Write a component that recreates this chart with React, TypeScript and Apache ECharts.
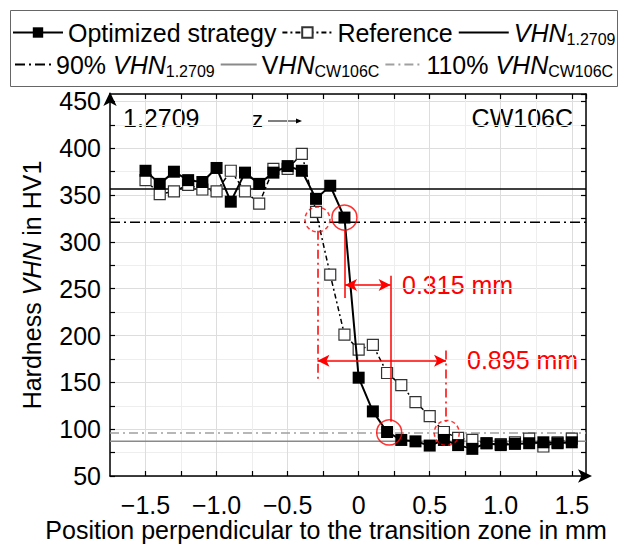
import React, { useEffect, useRef } from "react";
import * as echarts from "echarts";

const positions = [-1.5, -1.4, -1.3, -1.2, -1.1, -1.0, -0.9, -0.8, -0.7, -0.6, -0.5, -0.4, -0.3, -0.2, -0.1, 0.0, 0.1, 0.2, 0.3, 0.4, 0.5, 0.6, 0.7, 0.8, 0.9, 1.0, 1.1, 1.2, 1.3, 1.4, 1.5];
const optimized = [376, 362, 375, 366, 364, 379, 343, 374, 362, 374, 381, 376, 346, 360, 326, 155, 119, 97, 88.5, 87, 82.5, 88.5, 83, 79, 85, 83, 84.3, 85, 86, 85, 86];
const reference = [366, 351, 354, 361, 356, 354, 376, 354, 341, 378, 378, 394, 332, 265, 201, 185, 190, 160, 147, 129, 114, 97, 90.7, 88.5, 85, 84, 86, 90, 81.5, 86, 90];

const vhn12709 = 356.5;
const vhn12709_90 = 321;
const vhnCW106C = 87;
const vhnCW106C_110 = 96;

const xMin = -1.75;
const xMax = 1.6;
const yMin = 50;
const yMax = 458;

const xTitle = "Position perpendicular to the transition zone in mm";

// annotation geometry in data coordinates
const solidCircles = [[-0.1, 326], [0.215, 96.5]];
const dashedCircles = [[-0.29, 324], [0.62, 96]];
const solidVerticals = [[-0.096, 312, 240], [0.225, 264, 108]];
const dashVerticals = [[-0.29, 312, 150], [0.615, 184, 108]];
const dimensionArrows = [[-0.096, 0.225, 254], [-0.29, 0.615, 173]];

const FONT = "'Liberation Sans', Arial, Helvetica, sans-serif";
const RED = "#ff0000";

const legendNames: Record<string, string> = {
  "Optimized strategy": "Optimized strategy",
  Reference: "Reference",
  "VHN1.2709": "{i|VHN}{s|1.2709}",
  "90% VHN1.2709": "90% {i|VHN}{s|1.2709}",
  VHNCW106C: "V{i|HN}{s|CW106C}",
  "110% VHNCW106C": "110% {i|VHN}{s|CW106C}",
};

const richLegend = {
  i: { fontStyle: "italic", fontSize: 25, fontFamily: FONT, color: "#000" },
  s: { fontSize: 16, fontFamily: FONT, color: "#000", padding: [14, 0, 0, 0] },
};

function hLine(v: number) {
  return [[xMin, v], [xMax, v]];
}

export default function App() {
  const ref = useRef<HTMLDivElement>(null);
  useEffect(() => {
    if (!ref.current) return;
    const chart = echarts.init(ref.current, null, { renderer: "svg" });
    const markLineData: any[] = [];
    solidVerticals.forEach(([x, y1, y2]) => {
      markLineData.push([
        { coord: [x, y1], symbol: "none", lineStyle: { color: RED, width: 1.5, type: "solid" } },
        { coord: [x, y2], symbol: "none" },
      ]);
    });
    dashVerticals.forEach(([x, y1, y2]) => {
      markLineData.push([
        { coord: [x, y1], symbol: "none", lineStyle: { color: RED, width: 1.5, type: [9, 4, 2, 4] } },
        { coord: [x, y2], symbol: "none" },
      ]);
    });
    dimensionArrows.forEach(([x1, x2, y]) => {
      markLineData.push([
        { coord: [x1, y], symbol: "arrow", lineStyle: { color: RED, width: 1.5, type: "solid" } },
        { coord: [x2, y], symbol: "arrow" },
      ]);
    });

    const refLineSeries = (name: string, v: number, color: string, type: any) => ({
      name,
      type: "line",
      data: hLine(v),
      symbol: "circle",
      showSymbol: false,
      silent: true,
      lineStyle: { color, width: 1.5, type },
      itemStyle: { color: "rgba(0,0,0,0)", borderWidth: 0 },
      emphasis: { disabled: true },
      z: 1,
    });

    const legendCommon = {
      itemHeight: 13,
      itemGap: 5,
      padding: 0,
      selectedMode: false,
      formatter: (n: string) => legendNames[n],
      textStyle: { fontSize: 25, fontFamily: FONT, color: "#000", rich: richLegend },
    };

    const option: any = {
      animation: false,
      backgroundColor: "#fff",
      textStyle: { fontFamily: FONT },
      grid: { left: 110, right: 43, top: 94, bottom: 69, containLabel: false, outerBoundsMode: "none" },
      legend: [
        {
          ...legendCommon,
          data: ["Optimized strategy", "Reference", "VHN1.2709"],
          left: 12,
          top: 20,
          width: 612,
          itemWidth: 50,
        },
        {
          ...legendCommon,
          data: ["90% VHN1.2709", "VHNCW106C", "110% VHNCW106C"],
          left: 14,
          top: 52,
          width: 612,
          itemWidth: 36,
        },
      ],
      xAxis: [
        {
          type: "value",
          min: xMin,
          max: xMax,
          interval: 0.25,
          position: "bottom",
          axisLine: {
            show: true,
            onZero: false,
            lineStyle: { color: "#000", width: 1.5 },
            symbol: ["none", "arrow"],
            symbolSize: [10, 14],
            symbolOffset: [0, 6],
          },
          axisTick: { show: true, inside: true, length: 5, lineStyle: { color: "#000", width: 1.2 } },
          axisLabel: {
            margin: 16,
            fontSize: 25,
            color: "#000",
            fontFamily: FONT,
            showMaxLabel: false,
            showMinLabel: false,
            formatter: (v: number) => {
              const d = v * 2;
              if (Math.abs(d - Math.round(d)) > 1e-6 || v < -1.51 || v > 1.51) return "";
              if (Math.abs(v) < 1e-9) return "0";
              return (v < 0 ? "\u2212" : "") + Math.abs(v).toFixed(1);
            },
          },
          splitLine: { show: true, lineStyle: { color: ["#eeeeee", "#dddddd"], width: 1 } },
        },
        {
          type: "value",
          min: xMin,
          max: xMax,
          interval: 0.25,
          position: "top",
          axisLine: { show: true, onZero: false, lineStyle: { color: "#000", width: 1.5 } },
          axisTick: { show: true, inside: true, length: 5, lineStyle: { color: "#000", width: 1.2 } },
          axisLabel: { show: false },
          splitLine: { show: false },
        },
      ],
      yAxis: [
        {
          type: "value",
          min: yMin,
          max: yMax,
          interval: 25,
          position: "left",
          axisLine: {
            show: true,
            onZero: false,
            lineStyle: { color: "#000", width: 1.5 },
            symbol: ["none", "arrow"],
            symbolSize: [10, 14],
            symbolOffset: [0, 2],
          },
          axisTick: { show: true, inside: true, length: 5, lineStyle: { color: "#000", width: 1.2 } },
          axisLabel: {
            margin: 9,
            fontSize: 25,
            color: "#000",
            fontFamily: FONT,
            showMaxLabel: false,
            formatter: (v: number) => (v % 50 === 0 && v <= 450 ? String(v) : ""),
          },
          splitLine: { show: true, lineStyle: { color: ["#dddddd", "#eeeeee"], width: 1 } },
          name: "Hardness {i|VHN} in HV1",
          nameLocation: "middle",
          nameRotate: 90,
          nameGap: 66,
          nameTextStyle: {
            fontSize: 25,
            color: "#000",
            fontFamily: FONT,
            rich: { i: { fontStyle: "italic", fontSize: 25, fontFamily: FONT, color: "#000" } },
          },
        },
        {
          type: "value",
          min: yMin,
          max: yMax,
          interval: 25,
          position: "right",
          axisLine: { show: true, onZero: false, lineStyle: { color: "#000", width: 1.5 } },
          axisTick: { show: true, inside: true, length: 5, lineStyle: { color: "#000", width: 1.2 } },
          axisLabel: { show: false },
          splitLine: { show: false },
        },
      ],
      series: [
        refLineSeries("VHNCW106C", vhnCW106C, "#8a8a8a", "solid"),
        refLineSeries("110% VHNCW106C", vhnCW106C_110, "#a0a0a0", [9, 4, 2, 4]),
        refLineSeries("VHN1.2709", vhn12709, "#000", "solid"),
        refLineSeries("90% VHN1.2709", vhn12709_90, "#000", [10, 4, 2, 4]),
        {
          name: "Reference",
          type: "line",
          data: positions.map((x, i) => [x, reference[i]]),
          symbol: "rect",
          symbolSize: 11,
          lineStyle: { color: "#000", width: 1.5, type: [5, 3, 2, 3] },
          itemStyle: { color: "#fff", borderColor: "#333", borderWidth: 1.2 },
          z: 2,
        },
        {
          name: "Optimized strategy",
          type: "line",
          data: positions.map((x, i) => [x, optimized[i]]),
          symbol: "rect",
          symbolSize: 12,
          lineStyle: { color: "#000", width: 2 },
          itemStyle: { color: "#000" },
          z: 3,
        },
        {
          name: "annot",
          type: "line",
          data: [],
          silent: true,
          z: 4,
          markLine: {
            silent: true,
            animation: false,
            symbolSize: [9, 12],
            label: { show: false },
            data: markLineData,
          },
        },
        {
          name: "circlesSolid",
          type: "scatter",
          data: solidCircles,
          symbol: "circle",
          symbolSize: 25,
          silent: true,
          z: 5,
          itemStyle: { color: "rgba(0,0,0,0)", borderColor: RED, borderWidth: 1.5 },
        },
        {
          name: "circlesDashed",
          type: "scatter",
          data: dashedCircles,
          symbol: "circle",
          symbolSize: 25,
          silent: true,
          z: 5,
          itemStyle: { color: "rgba(0,0,0,0)", borderColor: RED, borderWidth: 1.5, borderType: [4, 3] },
        },
      ],
      graphic: [
        {
          type: "rect",
          shape: { x: 10.5, y: 10.5, width: 607, height: 76 },
          style: { fill: "none", stroke: "#666", lineWidth: 1 },
          z: 0,
        },
        {
          type: "text",
          x: 326,
          y: 530,
          style: { text: xTitle, fontSize: 25, fontFamily: FONT, fill: "#000", align: "center", verticalAlign: "middle" },
        },
        {
          type: "text",
          x: 123,
          y: 118,
          style: { text: "1.2709", fontSize: 25, fontFamily: FONT, fill: "#000", verticalAlign: "middle" },
        },
        {
          type: "text",
          x: 252,
          y: 119,
          style: { text: "z", fontSize: 22, fontFamily: FONT, fill: "#000", verticalAlign: "middle" },
        },
        {
          type: "line",
          shape: { x1: 268, y1: 121, x2: 297, y2: 121 },
          style: { stroke: "#000", lineWidth: 1 },
        },
        {
          type: "polygon",
          shape: { points: [[296, 118.5], [302, 121], [296, 123.5]] },
          style: { fill: "#000" },
        },
        {
          type: "text",
          x: 573,
          y: 118,
          style: { text: "CW106C", fontSize: 25, fontFamily: FONT, fill: "#000", align: "right", verticalAlign: "middle" },
        },
        {
          type: "text",
          x: 402,
          y: 285,
          style: { text: "0.315 mm", fontSize: 25, fontFamily: FONT, fill: RED, verticalAlign: "middle" },
        },
        {
          type: "text",
          x: 467,
          y: 360,
          style: { text: "0.895 mm", fontSize: 25, fontFamily: FONT, fill: RED, verticalAlign: "middle" },
        },
      ],
    };
    chart.setOption(option);
    return () => chart.dispose();
  }, []);
  return <div ref={ref} style={{ width: 629, height: 545, position: "absolute", left: 0, top: 0 }} />;
}
